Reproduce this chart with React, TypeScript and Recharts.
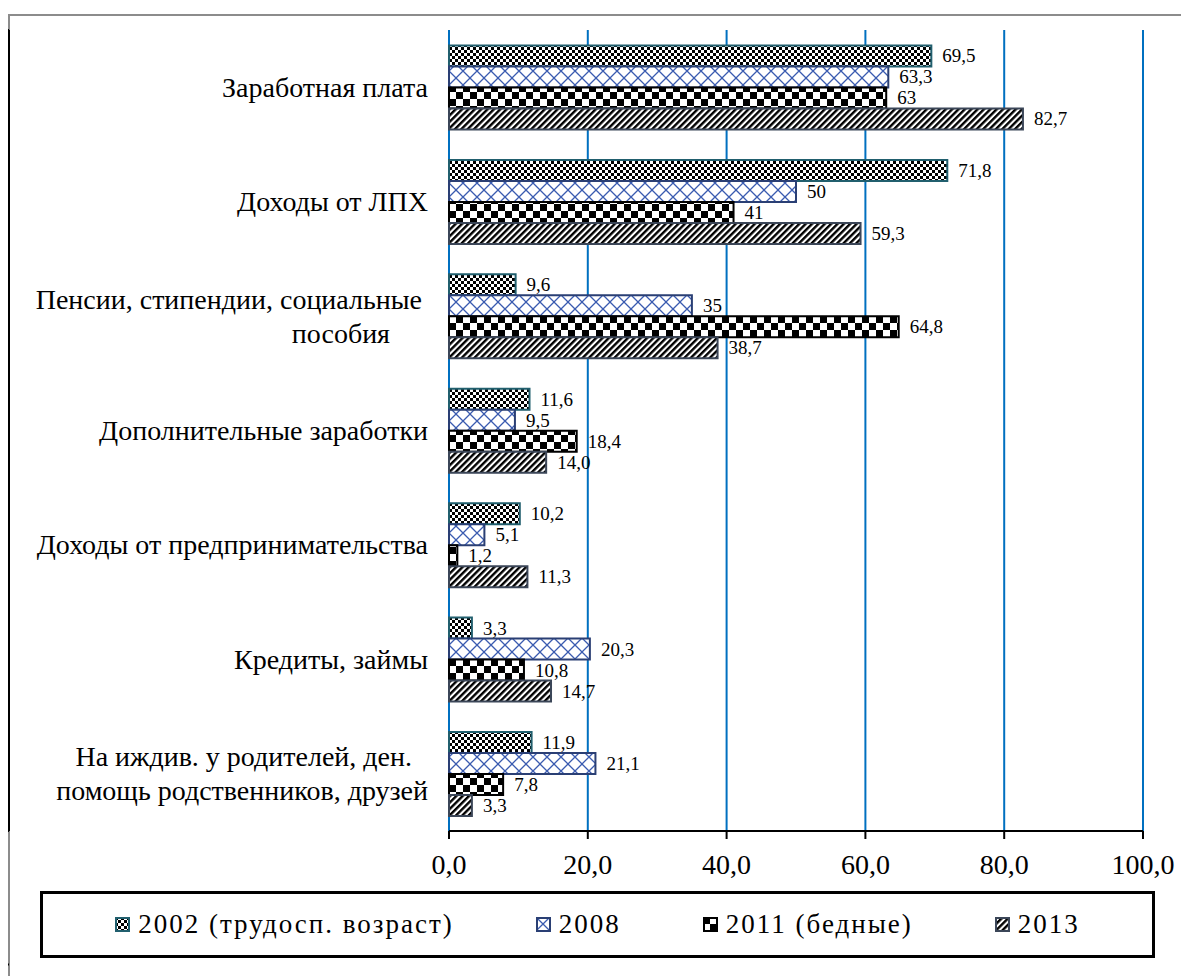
import { BarChart, Bar, XAxis, YAxis, CartesianGrid, LabelList, Legend } from 'recharts'

const categories = [
  'Заработная плата',
  'Доходы от ЛПХ',
  'Пенсии, стипендии, социальные\nпособия',
  'Дополнительные заработки',
  'Доходы от предпринимательства',
  'Кредиты, займы',
  'На иждив. у родителей, ден.\nпомощь родственников, друзей',
]

const values2002 = [69.5, 71.8, 9.6, 11.6, 10.2, 3.3, 11.9]
const values2008 = [63.3, 50, 35, 9.5, 5.1, 20.3, 21.1]
const values2011 = [63, 41, 64.8, 18.4, 1.2, 10.8, 7.8]
const values2013 = [82.7, 59.3, 38.7, 14.0, 11.3, 14.7, 3.3]

const labels2002 = ['69,5', '71,8', '9,6', '11,6', '10,2', '3,3', '11,9']
const labels2008 = ['63,3', '50', '35', '9,5', '5,1', '20,3', '21,1']
const labels2011 = ['63', '41', '64,8', '18,4', '1,2', '10,8', '7,8']
const labels2013 = ['82,7', '59,3', '38,7', '14,0', '11,3', '14,7', '3,3']

const xTicks = [0, 20, 40, 60, 80, 100]
const bandEdges = [0, 1, 2, 3, 4, 5, 6, 7]

const series = [
  { key: 'v2002', label: 'l2002', name: '2002 (трудосп. возраст)', fill: 'url(#p2002)', stroke: '#215f6e' },
  { key: 'v2008', label: 'l2008', name: '2008', fill: 'url(#p2008)', stroke: '#2a3f74' },
  { key: 'v2011', label: 'l2011', name: '2011 (бедные)', fill: 'url(#p2011)', stroke: '#000000' },
  { key: 'v2013', label: 'l2013', name: '2013', fill: 'url(#p2013)', stroke: '#3b4658' },
]

const data = categories.map((name, i) => ({
  name,
  v2002: values2002[i],
  v2008: values2008[i],
  v2011: values2011[i],
  v2013: values2013[i],
  l2002: labels2002[i],
  l2008: labels2008[i],
  l2011: labels2011[i],
  l2013: labels2013[i],
}))

const FONT = "'Liberation Serif', 'DejaVu Serif', serif"

// right-end shift of each line of the multi-line category labels
const lineShift: Record<string, number> = {
  'Пенсии, стипендии, социальные': 27,
  'пособия': 59,
  'На иждив. у родителей, ден.': 37,
  'помощь родственников, друзей': 21,
}

function CategoryTick(props: any) {
  const { x, y, payload } = props
  const lines: string[] = String(payload.value).split('\n')
  const lh = 34
  const y0 = y - ((lines.length - 1) * lh) / 2
  return (
    <g>
      {lines.map((line, i) => (
        <text
          key={i}
          x={x - (lines.length > 1 ? lineShift[line] ?? 21 : 21)}
          y={y0 + i * lh}
          textAnchor="end"
          dominantBaseline="central"
          fontSize={28}
          style={{ fontFamily: FONT }}
          fill="#000"
        >
          {line}
        </text>
      ))}
    </g>
  )
}

function BarLabel(props: any) {
  const { x, y, width, height, value } = props
  return (
    <text
      x={x + width + 11}
      y={y + height / 2}
      dominantBaseline="central"
      fontSize={19}
      style={{ fontFamily: FONT }}
      fill="#000"
    >
      {value}
    </text>
  )
}

function LegendBox() {
  return (
    <div
      style={{
        boxSizing: 'border-box',
        width: 1115,
        height: 67,
        border: '3px solid #000',
        display: 'flex',
        alignItems: 'center',
        justifyContent: 'center',
        gap: 82,
        fontFamily: FONT,
        fontSize: 27,
        letterSpacing: 2,
        color: '#000',
      }}
    >
      {series.map((s) => (
        <div key={s.key} style={{ display: 'flex', alignItems: 'center' }}>
          <svg width={15} height={15} style={{ marginRight: 8 }}>
            <rect x={1} y={1} width={13} height={13} fill={s.fill} stroke={s.stroke} strokeWidth={2} />
          </svg>
          <span>{s.name}</span>
        </div>
      ))}
    </div>
  )
}

export default function App() {
  return (
    <div style={{ position: 'relative', width: 1181, height: 968, overflow: 'hidden', background: '#fff', fontFamily: FONT }}>
      <div
        style={{
          position: 'absolute',
          left: 0,
          top: 6,
          width: 1300,
          height: 1100,
          border: '2px solid #8c8c8c',
        }}
      />
      <BarChart
        width={1181}
        height={968}
        data={data}
        layout="vertical"
        margin={{ top: 22, right: 46, left: 0, bottom: 18 }}
        barCategoryGap="13.5%"
        barGap={0}
        style={{ position: 'absolute', left: 0, top: 0, fontFamily: FONT }}
      >
        <defs>
          <pattern id="p2002" width="6" height="6" patternUnits="userSpaceOnUse">
            <rect width="6" height="6" fill="#fff" />
            <rect width="3" height="3" fill="#000" />
            <rect x="3" y="3" width="3" height="3" fill="#000" />
          </pattern>
          <pattern id="p2008" width="14" height="14" patternUnits="userSpaceOnUse">
            <rect width="14" height="14" fill="#fff" />
            <path d="M0 0 L14 14 M14 0 L0 14" stroke="#3a5bb0" strokeWidth="1.3" />
          </pattern>
          <pattern id="p2011" width="14" height="14" patternUnits="userSpaceOnUse">
            <rect width="14" height="14" fill="#fff" />
            <rect width="7" height="7" fill="#000" />
            <rect x="7" y="7" width="7" height="7" fill="#000" />
          </pattern>
          <pattern id="p2013" width="4.5" height="4.5" patternUnits="userSpaceOnUse" patternTransform="rotate(45)">
            <rect width="4.5" height="4.5" fill="#fff" />
            <rect width="2.4" height="4.5" fill="#000" />
          </pattern>
        </defs>
        <CartesianGrid horizontal={false} stroke="#0070c0" strokeWidth={2} yAxisId="cat" />
        <XAxis
          type="number"
          domain={[0, 100]}
          ticks={xTicks}
          tickFormatter={(v: number) => v.toFixed(1).replace('.', ',')}
          axisLine={{ stroke: '#000', strokeWidth: 2 }}
          tickLine={{ stroke: '#000', strokeWidth: 2 }}
          tickSize={8}
          tickMargin={15}
          height={60}
          tick={{ fontSize: 28, fill: '#000', style: { fontFamily: FONT } }}
        />
        <YAxis
          yAxisId="edge"
          type="number"
          domain={[0, 7]}
          ticks={bandEdges}
          allowDataOverflow
          width={1}
          axisLine={{ stroke: '#000', strokeWidth: 2 }}
          tickLine={{ stroke: '#000', strokeWidth: 2 }}
          tickSize={8}
          tickFormatter={() => ''}
        />
        <YAxis
          yAxisId="cat"
          type="category"
          dataKey="name"
          width={440}
          axisLine={false}
          tickLine={false}
          tickSize={0}
          tickMargin={0}
          interval={0}
          tick={<CategoryTick />}
        />
        <Legend
          verticalAlign="bottom"
          content={<LegendBox />}
          wrapperStyle={{ left: 32, top: 883, width: 1115 }}
        />
        {series.map((s) => (
          <Bar
            key={s.key}
            yAxisId="cat"
            dataKey={s.key}
            name={s.name}
            fill={s.fill}
            stroke={s.stroke}
            strokeWidth={2}
            isAnimationActive={false}
          >
            <LabelList dataKey={s.label} content={<BarLabel />} />
          </Bar>
        ))}
      </BarChart>
    </div>
  )
}
